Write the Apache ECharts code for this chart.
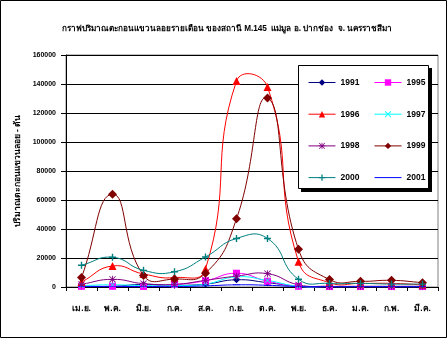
<!DOCTYPE html>
<html>
<head>
<meta charset="utf-8">
<script src="https://cdn.jsdelivr.net/npm/echarts@6/dist/echarts.min.js"></script>
<style>
  html, body { margin: 0; padding: 0; background: #fff; }
  #chart { width: 447px; height: 338px; }
</style>
</head>
<body>
<div id="chart"></div>
<script>
// Monthly suspended sediment load, station M.145 (water year Apr–Mar)
const months = ['เม.ย.', 'พ.ค.', 'มิ.ย.', 'ก.ค.', 'ส.ค.', 'ก.ย.', 'ต.ค.', 'พ.ย.', 'ธ.ค.', 'ม.ค.', 'ก.พ.', 'มี.ค.'];
const yTicks = { min: 0, max: 160000, interval: 20000 };

const y1991 = [400, 500, 1800, 1200, 2000, 5000, 3000, 500, 300, 300, 300, 300];
const y1995 = [500, 500, 400, 1700, 4300, 9500, 4000, 500, 300, 300, 300, 300];
const y1996 = [3400, 14500, 9000, 6500, 12500, 142000, 138000, 17500, 3000, 2500, 2500, 1500];
const y1997 = [1000, 1500, 1000, 1000, 2000, 7000, 4500, 500, 300, 300, 300, 300];
const y1998 = [1900, 5300, 2300, 1800, 4600, 7500, 9200, 1500, 500, 500, 500, 500];
const y1999 = [6500, 64000, 8000, 5500, 9500, 47000, 130300, 26000, 5100, 3900, 4600, 3000];
const y2000 = [15000, 20500, 11500, 10500, 20700, 33500, 33500, 5300, 2500, 2500, 2000, 2000];
const y2001 = [300, 300, 300, 300, 800, 1500, 1200, 300, 200, 200, 200, 200];

// marker shapes
const PLUS = 'path://M4 0H6V4H10V6H6V10H4V6H0V4H4Z';
const CROSS = 'path://M1 0L5 4L9 0L10 1L6 5L10 9L9 10L5 6L1 10L0 9L4 5L0 1Z';
const STAR = 'path://M4.4 0H5.6V4.4H10V5.6H5.6V10H4.4V5.6H0V4.4H4.4Z M1 0.2L5 4.2L9 0.2L9.8 1L5.8 5L9.8 9L9 9.8L5 5.8L1 9.8L0.2 9L4.2 5L0.2 1Z';
const DASH = 'path://M0 0H7V2H0Z';

const seriesDefs = [
  { name: '1991', data: y1991, color: '#000080', symbol: 'diamond', size: 7 },
  { name: '1995', data: y1995, color: '#FF00FF', symbol: 'rect', size: 7 },
  { name: '1996', data: y1996, color: '#FF0000', symbol: 'triangle', size: 8 },
  { name: '1997', data: y1997, color: '#00FFFF', symbol: CROSS, size: 5 },
  { name: '1998', data: y1998, color: '#800080', symbol: STAR, size: 7 },
  { name: '1999', data: y1999, color: '#800000', symbol: 'diamond', size: 9 },
  { name: '2000', data: y2000, color: '#008080', symbol: PLUS, size: 7 },
  { name: '2001', data: y2001, color: '#0000FF', symbol: DASH, size: [7, 2] }
];

const FONT = 'Liberation Sans, Arial, sans-serif';

// Smoothed curve through the points: cubic Bézier segments whose tangents
// are weighted by chord length, positioned through the grid's own axes.
function curveRenderer(values, color) {
  const n = values.length;
  const dist = (a, b) => Math.hypot(b[0] - a[0], b[1] - a[1]);
  return function (params, api) {
    const i = params.dataIndex;
    if (i >= n - 1) return null;
    const p = k => {
      const j = Math.max(0, Math.min(n - 1, k));
      return api.coord([j, values[j]]);
    };
    const p0 = p(i - 1), p1 = p(i), p2 = p(i + 1), p3 = p(i + 2);
    const d01 = dist(p0, p1), d12 = dist(p1, p2), d23 = dist(p2, p3);
    const f1 = (d01 + d12) > 0 ? 0.5 * d12 / (d01 + d12) : 0;
    const f2 = (d12 + d23) > 0 ? 0.5 * d12 / (d12 + d23) : 0;
    return {
      type: 'bezierCurve',
      shape: {
        x1: p1[0], y1: p1[1],
        cpx1: p1[0] + (p2[0] - p0[0]) * f1, cpy1: p1[1] + (p2[1] - p0[1]) * f1,
        cpx2: p2[0] - (p3[0] - p1[0]) * f2, cpy2: p2[1] - (p3[1] - p1[1]) * f2,
        x2: p2[0], y2: p2[1]
      },
      style: { stroke: color, fill: null, lineWidth: 1 },
      silent: true
    };
  };
}

const chart = echarts.init(document.getElementById('chart'), null, { renderer: 'canvas' });

const legendCommon = {
  orient: 'vertical',
  top: 78,
  itemWidth: 27,
  itemHeight: 8,
  itemGap: 22.7,
  padding: 0,
  selectedMode: false,
  lineStyle: { opacity: 1, width: 1 },
  textStyle: { fontFamily: FONT, fontSize: 8.5, fontWeight: 'bold', color: '#000', lineHeight: 8, padding: [1, 0, 0, 0] }
};

const markerSeries = seriesDefs.map(d => ({
  name: d.name,
  type: 'line',
  data: d.data,
  symbol: d.symbol,
  symbolSize: d.size,
  symbolKeepAspect: true,
  showSymbol: true,
  lineStyle: { color: d.color, width: 1, opacity: 0 },
  itemStyle: { color: d.color, borderWidth: 0 },
  emphasis: { disabled: true },
  z: 3
}));

const curveSeries = seriesDefs.map(d => ({
  type: 'custom',
  data: d.data.map((v, i) => [i, v]),
  encode: { x: 0, y: 1 },
  renderItem: curveRenderer(d.data, d.color),
  silent: true,
  z: 2
}));

chart.setOption({
  animation: false,
  backgroundColor: '#fff',
  title: {
    text: 'กราฟปริมาณตะกอนแขวนลอยรายเดือน ของสถานี M.145  แม่มูล อ. ปากช่อง  จ. นครราชสีมา',
    left: 222,
    textAlign: 'center',
    top: 20,
    textStyle: { fontFamily: FONT, fontSize: 8.2, fontWeight: 'bold', color: '#000' }
  },
  legend: [
    Object.assign({ left: 308, data: ['1991', '1996', '1998', '2000'] }, legendCommon),
    // the thin dash marker of 2001 would be squared in the key, so the key shows its line only
    Object.assign({ left: 374, data: ['1995', '1997', '1999', { name: '2001', itemStyle: { opacity: 0 } }] }, legendCommon)
  ],
  grid: {
    left: 66, right: 9, top: 55, bottom: 51,
    show: true, borderColor: '#808080', borderWidth: 1, backgroundColor: 'transparent'
  },
  xAxis: {
    type: 'category',
    data: months,
    boundaryGap: true,
    axisLine: { lineStyle: { color: '#000', width: 1 } },
    axisTick: { show: true, length: 4, inside: false, lineStyle: { color: '#000' } },
    axisLabel: { margin: 17, fontFamily: FONT, fontSize: 8.5, fontWeight: 'bold', color: '#000' },
    splitLine: { show: false }
  },
  yAxis: {
    type: 'value',
    min: yTicks.min, max: yTicks.max, interval: yTicks.interval,
    name: 'ปริมาณตะกอนแขวนลอย - ตัน',
    nameLocation: 'middle',
    nameGap: 41,
    nameRotate: 90,
    nameTextStyle: { fontFamily: FONT, fontSize: 8.5, fontWeight: 'bold', color: '#000' },
    axisLine: { show: true, lineStyle: { color: '#000', width: 1 } },
    axisTick: { show: true, length: 5, lineStyle: { color: '#000' } },
    axisLabel: { margin: 10, fontFamily: FONT, fontSize: 7, fontWeight: 'bold', color: '#000', formatter: v => String(v) },
    splitLine: { show: true, lineStyle: { color: '#000', width: 1 } }
  },
  graphic: [
    { type: 'rect', z: 4, shape: { x: 0.5, y: 0.5, width: 446, height: 337 }, style: { fill: 'none', stroke: '#000', lineWidth: 1 } },
    { type: 'rect', z: 4, shape: { x: 301, y: 68, width: 131, height: 124 }, style: { fill: '#000' } },
    { type: 'rect', z: 4, shape: { x: 298.5, y: 65.5, width: 130, height: 123 }, style: { fill: '#fff', stroke: '#000', lineWidth: 1 } }
  ],
  series: markerSeries.concat(curveSeries)
});
</script>
</body>
</html>
